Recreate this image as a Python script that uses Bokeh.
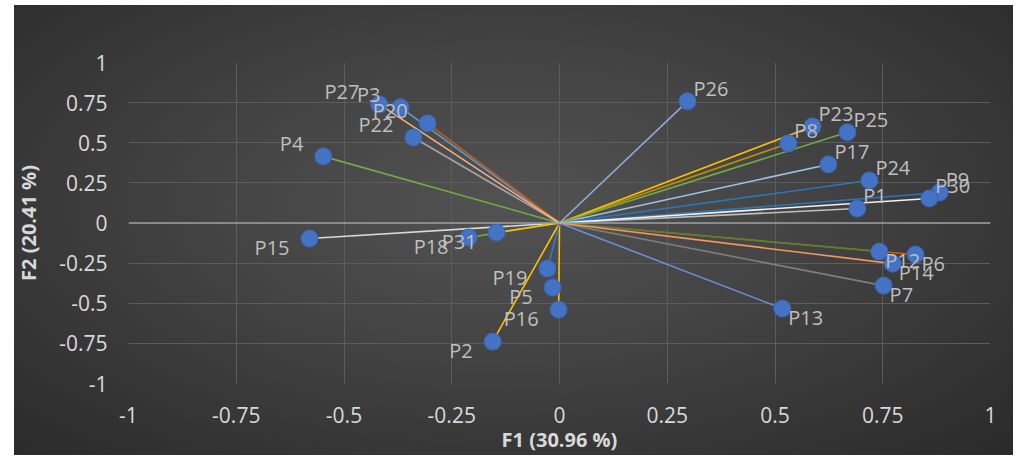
from bokeh.plotting import figure
from bokeh.models import Range1d, FixedTicker, ColumnDataSource, Span, NumeralTickFormatter
from bokeh.core.properties import value
from bokeh.embed import file_html
from bokeh.resources import INLINE

# ---- data ----
names = ["P1", "P2", "P3", "P4", "P5", "P6", "P7", "P8", "P9", "P12", "P13", "P14",
         "P15", "P16", "P17", "P18", "P19", "P20", "P22", "P23", "P24", "P25", "P26",
         "P27", "P30", "P31"]
f1 = [0.691, -0.155, -0.369, -0.548, -0.016, 0.826, 0.752, 0.531, 0.882, 0.742, 0.517, 0.773,
      -0.580, -0.002, 0.624, -0.211, -0.028, -0.306, -0.339, 0.587, 0.719, 0.668, 0.297,
      -0.418, 0.858, -0.146]
f2 = [0.090, -0.739, 0.721, 0.415, -0.402, -0.197, -0.390, 0.496, 0.190, -0.178, -0.533, -0.253,
      -0.097, -0.540, 0.365, -0.090, -0.284, 0.621, 0.533, 0.602, 0.265, 0.565, 0.758,
      0.739, 0.153, -0.059]
line_colors = ["#BFBFBF", "#FFC000", "#5B9BD5", "#70AD47", "#2F5597", "#C55A11", "#7F7F7F",
               "#BF9000", "#2E75B6", "#548235", "#6A8FD8", "#F1975A", "#D9D9D9", "#FFC000",
               "#9DC3E6", "#70AD47", "#4472C4", "#C55A11", "#A5A5A5", "#FFC000", "#2E75B6",
               "#70AD47", "#8FAADC", "#F4B183", "#F2F2F2", "#FFC000"]
tick_values = [-1, -0.75, -0.5, -0.25, 0, 0.25, 0.5, 0.75, 1]
x_title = "F1 (30.96 %)"
y_title = "F2 (20.41 %)"

FONT = "Open Sans"

n = len(names)
src = ColumnDataSource(dict(
    name=names, x=f1, y=f2, x0=[0.0] * n, y0=[0.0] * n, color=line_colors,
    align=["left" if v >= 0 else "right" for v in f1],
    xoff=[6 if v >= 0 else -20 for v in f1],
    yoff=[-13 if v >= 0 else 9 for v in f2],
))

p = figure(
    output_backend="svg", toolbar_location=None,
    frame_width=862, frame_height=321,
    min_border_left=128, min_border_right=23, min_border_top=62, min_border_bottom=70,
    x_range=Range1d(-1, 1), y_range=Range1d(-1, 1),
    background_fill_alpha=0, border_fill_alpha=0,
    styles={"background": "linear-gradient(to right, #ffffff 14px, transparent 14px), "
                          "linear-gradient(to bottom, #ffffff 5px, transparent 5px), "
                          "radial-gradient(ellipse at 50% 45%, #525252 0%, #444444 40%, #2a2a2a 100%)"},
)
p.outline_line_color = None

for ax in (p.xaxis[0], p.yaxis[0]):
    ax.ticker = FixedTicker(ticks=tick_values)
    ax.formatter = NumeralTickFormatter(format="0.[00]")
    ax.axis_line_color = None
    ax.major_tick_line_color = None
    ax.minor_tick_line_color = None
    ax.major_label_text_font = FONT
    ax.major_label_text_font_size = "21px"
    ax.major_label_text_color = "#d9d9d9"
    ax.axis_label_text_font = FONT
    ax.axis_label_text_font_size = "20px"
    ax.axis_label_text_font_style = "bold"
    ax.axis_label_text_color = "#d9d9d9"

p.xaxis.axis_label = x_title
p.yaxis.axis_label = y_title
p.xaxis.major_label_standoff = 17
p.xaxis.axis_label_standoff = 0
p.yaxis.major_label_standoff = 15
p.yaxis.axis_label_standoff = 14

for g in (p.xgrid[0], p.ygrid[0]):
    g.ticker = FixedTicker(ticks=tick_values)
    g.grid_line_color = "#5c5c5c"
    g.grid_line_width = 1

p.add_layout(Span(location=0, dimension="width", line_color="#9c9c9c", line_width=1.5))

p.segment(x0="x0", y0="y0", x1="x", y1="y", line_color="color", line_width=1.6, source=src)
p.scatter(x="x", y="y", size=17, fill_color="#4472C4", line_color="#3b66b5",
          line_width=1, source=src)
p.text(x="x", y="y", text="name", text_align="align", text_baseline="middle",
       x_offset="xoff", y_offset="yoff", text_font=value(FONT), text_font_size="20px",
       text_color="#bfbfbf", source=src)

open("out.html", "w").write(file_html(p, INLINE))
